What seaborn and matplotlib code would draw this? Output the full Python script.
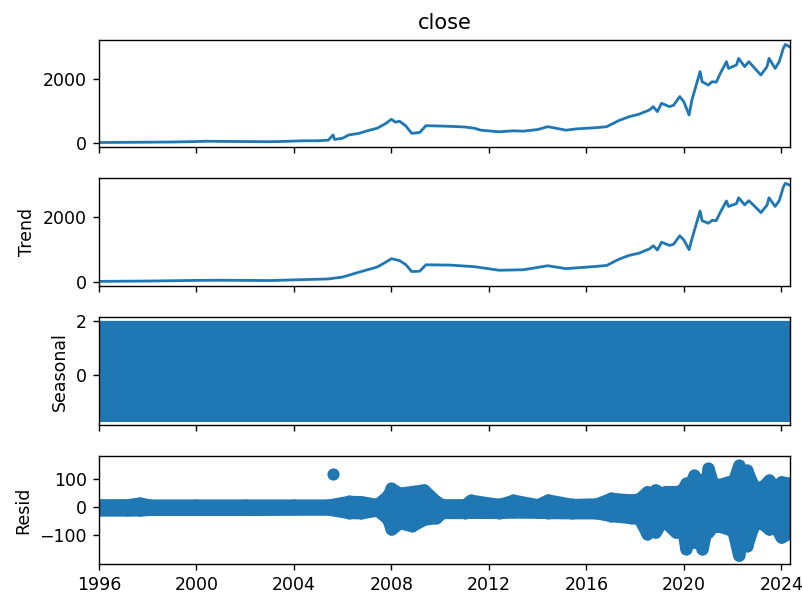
import numpy as np
import pandas as pd
import matplotlib
matplotlib.use("Agg")
import matplotlib.pyplot as plt
import matplotlib.dates as mdates
import seaborn as sns

# Observed closing price (sampled points along the series)
close_dates = [
    "1996-01-01", "1997-01", "1998-01", "1999-01", "2000-01", "2000-06", "2001-01",
    "2002-01", "2003-01", "2003-06", "2004-01", "2004-06", "2005-01", "2005-06",
    "2005-08-10", "2005-09", "2006-01", "2006-04", "2006-09", "2007-01", "2007-06",
    "2007-10", "2008-01", "2008-03", "2008-05", "2008-08", "2008-11", "2009-03",
    "2009-06", "2010-01", "2010-06", "2011-01", "2011-06", "2011-09", "2012-06",
    "2013-01", "2013-06", "2014-01", "2014-06", "2014-11", "2015-03", "2015-08",
    "2016-01", "2016-06", "2016-11", "2017-05", "2017-10", "2018-03", "2018-08",
    "2018-10", "2018-12", "2019-02", "2019-06", "2019-08", "2019-11", "2020-01",
    "2020-03-20", "2020-05", "2020-09", "2020-10", "2021-01", "2021-03", "2021-05",
    "2021-07", "2021-10", "2021-11", "2022-03", "2022-04", "2022-07", "2022-09",
    "2022-12", "2023-03", "2023-06", "2023-07", "2023-10", "2023-12", "2024-02",
    "2024-03", "2024-05-10",
]
close_values = [
    15, 20, 25, 30, 45, 55, 50,
    45, 40, 45, 60, 70, 70, 90,
    250, 110, 150, 250, 300, 380, 460,
    600, 740, 650, 680, 540, 300, 330,
    540, 530, 520, 500, 460, 400, 350,
    380, 370, 420, 510, 450, 400, 440,
    460, 480, 510, 700, 820, 900, 1030,
    1135, 980, 1240, 1135, 1180, 1450, 1290,
    875, 1340, 2230, 1915, 1810, 1915, 1900,
    2175, 2540, 2330, 2440, 2645, 2385, 2540,
    2330, 2125, 2385, 2645, 2330, 2540, 2960,
    3080, 3000,
]

# Trend component
trend_dates = [
    "1996-01-01", "1998-01", "2000-01", "2001-01", "2003-01", "2004-06", "2005-06",
    "2006-01", "2006-09", "2007-06", "2007-10", "2008-01", "2008-05", "2008-08",
    "2008-11", "2009-03", "2009-06", "2010-06", "2011-06", "2012-06", "2013-06",
    "2014-06", "2015-03", "2016-06", "2016-11", "2017-05", "2017-10", "2018-03",
    "2018-08", "2018-10", "2018-12", "2019-02", "2019-06", "2019-08", "2019-11",
    "2020-01", "2020-03-20", "2020-05", "2020-09", "2020-10", "2021-01", "2021-03",
    "2021-05", "2021-07", "2021-10", "2021-11", "2022-03", "2022-04", "2022-07",
    "2022-09", "2022-12", "2023-03", "2023-06", "2023-07", "2023-10", "2023-12",
    "2024-02", "2024-03", "2024-05-10",
]
trend_values = [
    15, 25, 45, 50, 40, 70, 90,
    150, 300, 460, 600, 720, 660, 540,
    320, 330, 530, 520, 470, 360, 375,
    500, 410, 480, 510, 700, 820, 890,
    1020, 1120, 990, 1230, 1130, 1170, 1430,
    1300, 1000, 1330, 2200, 1900, 1820, 1910,
    1900, 2160, 2510, 2340, 2430, 2610, 2390,
    2520, 2340, 2150, 2380, 2610, 2340, 2520,
    2940, 3060, 3000,
]

# One cycle of the seasonal component (business-day period)
seasonal_cycle = [1.95, -0.45, 0.35, -1.7, -0.15]
series_start, series_end = "1996-01-01", "2024-05-10"

# Residual band: upper and lower extent over time
resid_dates = [
    "1996-01-01", "1997-03", "1997-09", "1998-02", "2000-01", "2002-01", "2004-01",
    "2005-06", "2006-04", "2006-10", "2007-06", "2007-11", "2008-01", "2008-05",
    "2008-11", "2009-05", "2009-11", "2010-02", "2011-01", "2011-04", "2012-06",
    "2013-01", "2014-01", "2014-06", "2015-06", "2016-06", "2017-01", "2017-11",
    "2018-03", "2018-07", "2018-09", "2018-11", "2019-02", "2019-04", "2019-09",
    "2019-12", "2020-02", "2020-04", "2020-06", "2020-08", "2020-10", "2020-12",
    "2021-01", "2021-03", "2021-06", "2021-11", "2022-01", "2022-04", "2022-06",
    "2022-08", "2022-11", "2023-01", "2023-04", "2023-07", "2023-10", "2024-01",
    "2024-05-10",
]
resid_high = [
    9, 9, 15, 8, 8, 8, 8,
    8, 21, 20, 10, 40, 67, 50,
    56, 62, 21, 9, 9, 25, 10,
    25, 9, 26, 10, 12, 32, 26,
    30, 56, 50, 62, 50, 56, 56,
    60, 85, 80, 114, 90, 97, 100,
    138, 90, 80, 91, 85, 149, 120,
    132, 80, 68, 75, 97, 70, 91,
    85,
]
resid_low = [
    -10, -10, -10, -8, -8, -8, -7,
    -7, -19, -20, -10, -40, -78, -55,
    -66, -43, -37, -19, -19, -18, -19,
    -17, -18, -19, -20, -20, -30, -37,
    -40, -95, -50, -89, -50, -54, -89,
    -60, -148, -80, -125, -90, -148, -80,
    -89, -70, -66, -78, -80, -171, -100,
    -137, -70, -54, -60, -78, -70, -107,
    -89,
]
outlier_dates = ["2005-08-10"]
outlier_values = [118]

blue = "#1f77b4"


def to_dates(values):
    return pd.to_datetime(values, format="ISO8601")


fig, axs = plt.subplots(4, 1, sharex=True, figsize=(802 / 125, 596 / 125), dpi=125)
fig.subplots_adjust(left=0.1234, right=0.985, top=0.9337, bottom=0.0537, hspace=0.287)

# Observed
sns.lineplot(x=to_dates(close_dates), y=close_values, ax=axs[0],
             color=blue, linewidth=1.6)
axs[0].set_title("close")
axs[0].set_yticks([0, 2000])

# Trend
sns.lineplot(x=to_dates(trend_dates), y=trend_values, ax=axs[1],
             color=blue, linewidth=1.6)
axs[1].set_ylabel("Trend")
axs[1].set_yticks([0, 2000])

# Seasonal
days = pd.bdate_range(series_start, series_end)
seasonal = np.resize(np.array(seasonal_cycle), len(days))
sns.lineplot(x=days, y=seasonal, ax=axs[2], color=blue, linewidth=1.5)
axs[2].set_ylabel("Seasonal")
axs[2].set_yticks([0, 2])

# Residual: band of marker-sized stroke around the extent, plus the markers
rd = to_dates(resid_dates)
ax = axs[3]
ax.fill_between(rd, resid_low, resid_high, facecolor=blue, edgecolor=blue,
                linewidth=7, joinstyle="round", capstyle="round")
sns.scatterplot(x=rd, y=resid_high, ax=ax, color=blue, s=36, edgecolor=blue, linewidth=1)
sns.scatterplot(x=rd, y=resid_low, ax=ax, color=blue, s=36, edgecolor=blue, linewidth=1)
sns.scatterplot(x=to_dates(outlier_dates), y=outlier_values, ax=ax,
                color=blue, s=36, edgecolor=blue, linewidth=1)
ax.axhline(0, color="#000000", zorder=-3)
ax.set_ylabel("Resid")
ax.set_yticks([-100, 0, 100])
ax.set_ylim(-202, 182)

for a in axs:
    a.set_xlim(pd.Timestamp(series_start), pd.Timestamp(series_end))
    a.set_xlabel("")
axs[3].xaxis.set_major_locator(mdates.YearLocator(4))
axs[3].xaxis.set_major_formatter(mdates.DateFormatter("%Y"))

fig.savefig("out.png", dpi=125)
